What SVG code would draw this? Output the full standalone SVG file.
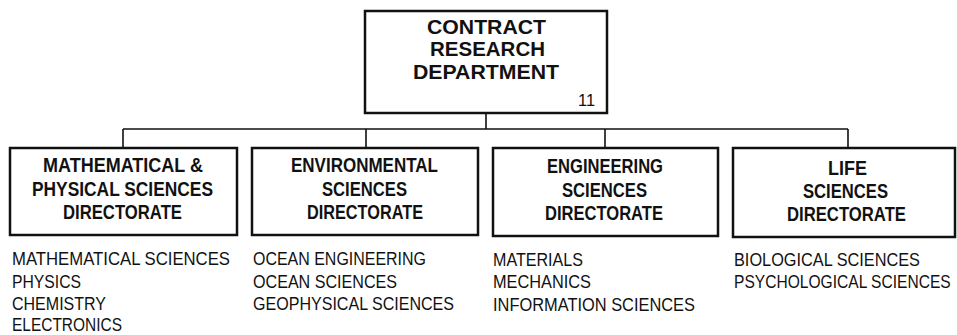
<svg xmlns="http://www.w3.org/2000/svg" width="957" height="335" viewBox="0 0 957 335">
<style>
.box{fill:#fff;stroke:#111;stroke-width:2.5}
.conn{fill:none;stroke:#111;stroke-width:1.6}
.h{font-family:"Liberation Sans",Arial,sans-serif;font-weight:bold;font-size:20px;fill:#111;text-anchor:middle}
.t{font-family:"Liberation Sans",Arial,sans-serif;font-size:18px;fill:#111}
.n{font-family:"Liberation Sans",Arial,sans-serif;font-size:17px;fill:#111}
</style>
<rect width="957" height="335" fill="#fff"/>
<g id="connectors">
<path class="conn" d="M486 113V129M123 129H848M123 129V148M366 129V148M605 129V148M848 129V148"/>
</g>
<g id="contract-research-department">
<rect class="box" x="365" y="11" width="242" height="102"/>
<text class="h" style="font-size:21px" x="486.5" y="34" textLength="119" lengthAdjust="spacingAndGlyphs">CONTRACT</text>
<text class="h" style="font-size:21px" x="487.5" y="56" textLength="115" lengthAdjust="spacingAndGlyphs">RESEARCH</text>
<text class="h" style="font-size:21px" x="486" y="79" textLength="146" lengthAdjust="spacingAndGlyphs">DEPARTMENT</text>
<text class="n" x="578" y="106" textLength="17" lengthAdjust="spacingAndGlyphs">11</text>
</g>
<g id="math-physical">
<rect class="box" x="10" y="148" width="227" height="87"/>
<text class="h" x="123" y="172" textLength="160" lengthAdjust="spacingAndGlyphs">MATHEMATICAL &amp;</text>
<text class="h" x="122.5" y="196" textLength="181" lengthAdjust="spacingAndGlyphs">PHYSICAL SCIENCES</text>
<text class="h" x="122.5" y="219" textLength="119" lengthAdjust="spacingAndGlyphs">DIRECTORATE</text>
<text class="t" x="12" y="265" textLength="218" lengthAdjust="spacingAndGlyphs">MATHEMATICAL SCIENCES</text>
<text class="t" x="12" y="288" textLength="69" lengthAdjust="spacingAndGlyphs">PHYSICS</text>
<text class="t" x="12" y="310" textLength="94" lengthAdjust="spacingAndGlyphs">CHEMISTRY</text>
<text class="t" x="12" y="331" textLength="110" lengthAdjust="spacingAndGlyphs">ELECTRONICS</text>
</g>
<g id="environmental">
<rect class="box" x="252" y="148" width="226" height="87"/>
<text class="h" x="364.5" y="172" textLength="147" lengthAdjust="spacingAndGlyphs">ENVIRONMENTAL</text>
<text class="h" x="364.5" y="196" textLength="85" lengthAdjust="spacingAndGlyphs">SCIENCES</text>
<text class="h" x="365" y="219" textLength="116" lengthAdjust="spacingAndGlyphs">DIRECTORATE</text>
<text class="t" x="253" y="265" textLength="173" lengthAdjust="spacingAndGlyphs">OCEAN ENGINEERING</text>
<text class="t" x="253" y="288" textLength="144" lengthAdjust="spacingAndGlyphs">OCEAN SCIENCES</text>
<text class="t" x="253" y="310" textLength="201" lengthAdjust="spacingAndGlyphs">GEOPHYSICAL SCIENCES</text>
</g>
<g id="engineering">
<rect class="box" x="493" y="148" width="225" height="88"/>
<text class="h" x="605" y="173" textLength="116" lengthAdjust="spacingAndGlyphs">ENGINEERING</text>
<text class="h" x="604.5" y="197" textLength="85" lengthAdjust="spacingAndGlyphs">SCIENCES</text>
<text class="h" x="604" y="220" textLength="118" lengthAdjust="spacingAndGlyphs">DIRECTORATE</text>
<text class="t" x="493" y="266" textLength="90" lengthAdjust="spacingAndGlyphs">MATERIALS</text>
<text class="t" x="493" y="288" textLength="98" lengthAdjust="spacingAndGlyphs">MECHANICS</text>
<text class="t" x="493" y="311" textLength="202" lengthAdjust="spacingAndGlyphs">INFORMATION SCIENCES</text>
</g>
<g id="life">
<rect class="box" x="733" y="148" width="222" height="89"/>
<text class="h" x="847.5" y="175" textLength="39" lengthAdjust="spacingAndGlyphs">LIFE</text>
<text class="h" x="845.5" y="198" textLength="85" lengthAdjust="spacingAndGlyphs">SCIENCES</text>
<text class="h" x="846.5" y="221" textLength="119" lengthAdjust="spacingAndGlyphs">DIRECTORATE</text>
<text class="t" x="734" y="266" textLength="186" lengthAdjust="spacingAndGlyphs">BIOLOGICAL SCIENCES</text>
<text class="t" transform="translate(734 288) scale(0.866 1)" x="0" y="0">PSYCHOLOGICAL SCIENCES</text>
</g>
</svg>
